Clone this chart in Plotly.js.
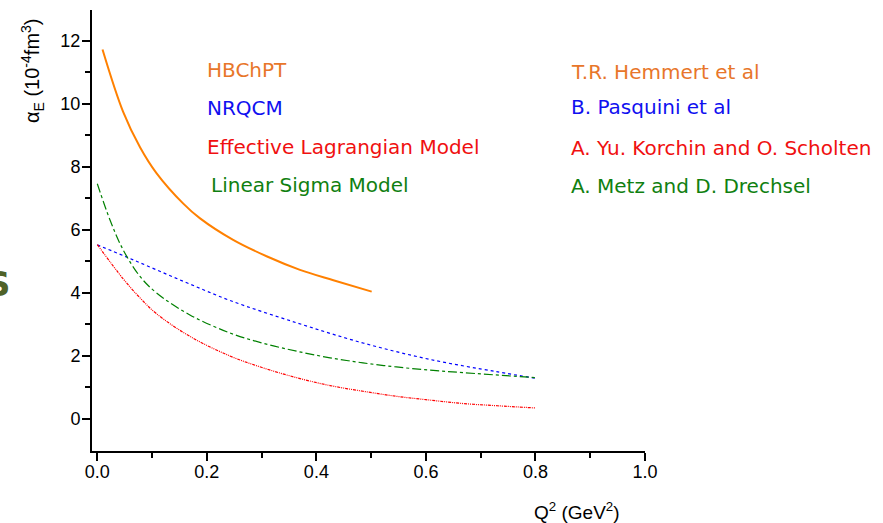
<!DOCTYPE html>
<html><head><meta charset="utf-8">
<script src="https://cdn.plot.ly/plotly-3.0.1.min.js"></script>
<style>body{margin:0;background:#fff}#c{width:883px;height:523px}</style>
</head><body><div id="c"></div>
<script>
// Data
const hbQ2 = [0.0095, 0.047, 0.078, 0.108, 0.157, 0.187, 0.248, 0.309, 0.37, 0.431, 0.501];
const hbAlpha = [11.72, 9.75, 8.62, 7.80, 6.83, 6.37, 5.68, 5.16, 4.73, 4.40, 4.04];

const nrQ2 = [0.0, 0.053, 0.108, 0.169, 0.242, 0.364, 0.485, 0.607, 0.729, 0.8];
const nrAlpha = [5.52, 5.14, 4.73, 4.28, 3.76, 3.05, 2.41, 1.89, 1.50, 1.29];

const elQ2 = [0.0, 0.047, 0.078, 0.108, 0.169, 0.242, 0.303, 0.364, 0.425, 0.485, 0.546, 0.607, 0.668, 0.73, 0.8];
const elAlpha = [5.53, 4.45, 3.84, 3.34, 2.62, 2.00, 1.62, 1.31, 1.06, 0.88, 0.72, 0.60, 0.49, 0.42, 0.35];

const lsQ2 = [0.0, 0.023, 0.047, 0.078, 0.108, 0.169, 0.242, 0.303, 0.364, 0.425, 0.485, 0.546, 0.607, 0.668, 0.8];
const lsAlpha = [7.46, 6.32, 5.37, 4.52, 4.0, 3.30, 2.73, 2.40, 2.15, 1.94, 1.78, 1.65, 1.55, 1.47, 1.31];

const xTickVals = [0, 0.2, 0.4, 0.6, 0.8, 1.0];
const xTickText = ["0.0", "0.2", "0.4", "0.6", "0.8", "1.0"];
const yTickVals = [0, 2, 4, 6, 8, 10, 12];

const modelNames = ["HBChPT", "NRQCM", "Effective Lagrangian Model", "Linear Sigma Model"];
const authorNames = ["T.R. Hemmert et al", "B. Pasquini et al", "A. Yu. Korchin and O. Scholten", "A. Metz and D. Drechsel"];
const colors = ["#FF8000", "#0000FF", "#FF0000", "#008000"];
const textColors = ["#E8762A", "#1010F0", "#F01010", "#108010"];

const traces = [
  {x: hbQ2, y: hbAlpha, mode: "lines", line: {color: colors[0], width: 2, shape: "spline", smoothing: 1}},
  {x: nrQ2, y: nrAlpha, mode: "lines", line: {color: colors[1], width: 1.2, dash: "dot", shape: "spline", smoothing: 1}},
  {x: elQ2, y: elAlpha, mode: "lines", line: {color: colors[2], width: 1.2, dash: "3px,1px,1px,1px,1px,1px", shape: "spline", smoothing: 1}},
  {x: lsQ2, y: lsAlpha, mode: "lines", line: {color: colors[3], width: 1.2, dash: "dashdot", shape: "spline", smoothing: 1}}
];

// plot area in pixels
const L = 92, R = 645, T = 10, B = 451;
const px = x => (x - L) / (R - L);
const py = y => (B - y) / (B - T);

const tf = {family: "Liberation Sans, Arial, sans-serif", size: 18, color: "#000"};
const lf = "DejaVu Sans, sans-serif";
const leftY = [70, 108, 147, 185];
const leftX = [205, 205, 205, 209];
const rightY = [72, 107, 148, 186];
const annotations = [];
for (let i = 0; i < 4; i++) {
  annotations.push({xref: "paper", yref: "paper", x: px(leftX[i]), y: py(leftY[i]),
    xanchor: "left", yanchor: "middle", showarrow: false, text: modelNames[i],
    font: {family: lf, size: 20, color: textColors[i]}});
  annotations.push({xref: "paper", yref: "paper", x: px(569), y: py(rightY[i]),
    xanchor: "left", yanchor: "middle", showarrow: false, text: authorNames[i],
    font: {family: lf, size: 20, color: textColors[i]}});
}
annotations.push({xref: "paper", yref: "paper", x: px(577), y: py(511),
  xanchor: "center", yanchor: "middle", showarrow: false, text: "Q<sup>2</sup> (GeV<sup>2</sup>)",
  font: {family: tf.family, size: 19, color: "#000"}});
annotations.push({xref: "paper", yref: "paper", x: px(33), y: py(71),
  xanchor: "center", yanchor: "middle", showarrow: false, textangle: -90,
  text: "α<sub>E</sub> (10<sup>-4</sup>fm<sup>3</sup>)", font: {family: tf.family, size: 20, color: "#000"}});
annotations.push({xref: "paper", yref: "paper", x: px(-2), y: py(284),
  xanchor: "center", yanchor: "middle", showarrow: false, text: "<b>S</b>",
  font: {family: lf, size: 34, color: "#4F6228"}});

const layout = {
  width: 883, height: 523,
  margin: {l: L, r: 883 - R, t: T, b: 523 - B},
  showlegend: false,
  paper_bgcolor: "#fff", plot_bgcolor: "#fff",
  xaxis: {range: [-0.0097, 1.0], tickvals: xTickVals, ticktext: xTickText,
    showgrid: false, zeroline: false, showline: true, linecolor: "#000", linewidth: 2,
    ticks: "outside", ticklen: 8, tickwidth: 2, tickcolor: "#000", tickfont: tf, ticklabelstandoff: -5,
    minor: {tickvals: [0.1, 0.3, 0.5, 0.7, 0.9], ticks: "outside", ticklen: 5, tickwidth: 2, tickcolor: "#000", showgrid: false}},
  yaxis: {range: [-1.015, 12.97], tickvals: yTickVals,
    showgrid: false, zeroline: false, showline: true, linecolor: "#000", linewidth: 2,
    ticks: "outside", ticklen: 8, tickwidth: 2, tickcolor: "#000", tickfont: tf, ticklabelstandoff: -2,
    minor: {tickvals: [1, 3, 5, 7, 9, 11, 13], ticks: "outside", ticklen: 5, tickwidth: 2, tickcolor: "#000", showgrid: false}},
  annotations: annotations
};
Plotly.newPlot("c", traces, layout, {displayModeBar: false, staticPlot: true});
</script></body></html>
